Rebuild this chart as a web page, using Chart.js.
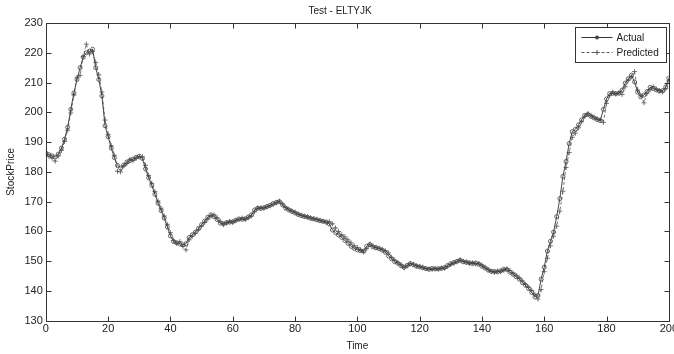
<!DOCTYPE html>
<html>
<head>
<meta charset="utf-8">
<title>Test - ELTYJK</title>
<script src="https://cdn.jsdelivr.net/npm/chart.js@4.4.1/dist/chart.umd.min.js"></script>
<style>
  html, body { margin: 0; padding: 0; background: #fff; overflow: hidden; width: 674px; height: 354px; }
  canvas { display: block; }
</style>
</head>
<body>
<canvas id="myChart" width="680" height="354"></canvas>
<script>
const ctx = document.getElementById('myChart');

// time steps 0..200
const times = [];
for (let i = 0; i <= 200; ++i) {
  times.push(i);
}

const actual = [
  186.3,185.8,185.4,185.0,186.0,188.0,191.0,195.0,201.0,206.5,
  211.0,215.0,218.5,220.0,220.5,221.2,215.0,211.0,205.5,195.5,
  191.8,188.0,184.8,182.2,181.3,182.3,183.3,183.8,184.3,184.9,
  185.3,184.5,181.0,178.0,175.5,172.5,169.5,167.0,164.5,161.5,
  158.5,156.6,156.2,155.8,155.5,155.9,158.0,158.9,159.8,161.0,
  162.3,163.5,164.8,165.6,165.0,164.0,162.8,162.6,163.0,163.1,
  163.3,163.8,164.2,164.1,164.3,164.9,165.6,167.2,167.8,167.7,
  168.0,168.4,168.8,169.4,169.8,170.0,168.9,167.8,167.2,166.7,
  166.2,165.7,165.3,165.0,164.8,164.4,164.2,163.9,163.6,163.4,
  163.2,162.5,160.5,159.6,158.8,158.0,157.0,156.0,155.0,154.3,
  153.8,153.5,153.4,155.0,155.6,154.8,154.5,154.2,153.7,153.0,
  151.8,150.8,149.8,149.3,148.5,148.0,148.6,149.2,148.8,148.3,
  148.1,147.8,147.5,147.3,147.6,147.4,147.5,147.6,147.9,148.6,
  149.2,149.6,150.0,150.3,149.8,149.6,149.5,149.2,149.4,149.0,
  148.3,147.7,147.0,146.6,146.6,146.4,146.8,147.3,147.2,146.3,
  145.6,144.8,144.0,142.8,141.9,140.8,139.5,138.0,138.5,144.0,
  148.0,153.4,156.7,159.8,165.0,171.0,178.5,183.5,189.5,193.5,
  194.3,195.8,197.5,199.0,199.3,198.6,198.1,197.6,197.2,201.0,
  204.5,206.3,206.4,206.3,206.4,207.5,209.8,211.3,212.5,210.2,
  206.8,205.2,205.8,207.0,208.4,208.0,207.5,207.1,207.3,208.5,
  211.5
];

const predicted = [
  186.0,185.2,184.6,183.6,185.4,187.2,190.2,194.0,199.8,205.8,
  211.8,212.4,218.8,222.9,219.6,220.4,216.8,212.6,206.8,197.4,
  192.6,188.8,185.6,180.2,180.0,182.0,182.8,184.2,183.8,184.6,
  185.0,185.1,182.2,178.8,176.2,173.4,170.2,167.8,165.2,162.4,
  159.6,157.0,156.0,156.6,155.0,153.8,157.2,158.4,159.4,160.6,
  161.8,163.0,164.2,165.2,165.6,164.6,163.4,162.3,162.8,163.4,
  163.0,163.6,164.0,164.5,164.0,164.6,165.2,166.6,167.9,168.0,
  167.8,168.2,168.6,169.0,169.6,170.2,169.2,168.1,167.5,166.9,
  166.5,165.9,165.5,165.2,164.9,164.6,164.3,164.1,163.8,163.4,
  163.0,163.3,162.6,161.2,160.0,158.9,158.2,157.2,156.2,155.2,
  154.6,153.9,153.1,154.2,155.8,155.2,154.7,154.4,154.0,153.5,
  152.8,151.3,150.4,149.6,148.9,147.8,148.4,149.2,149.0,148.5,
  148.3,148.0,147.6,147.4,147.2,147.6,147.3,147.7,147.6,148.2,
  148.9,149.3,149.8,150.5,150.0,149.8,149.3,149.5,149.1,149.3,
  148.7,148.0,147.3,146.6,146.2,146.7,146.5,147.0,147.5,146.9,
  146.0,145.3,144.4,143.4,142.2,141.3,140.2,138.9,137.3,140.5,
  146.5,151.0,155.2,158.4,161.8,166.8,173.5,181.5,186.5,191.6,
  193.0,194.8,196.8,198.6,199.6,199.0,198.4,197.8,197.5,196.6,
  203.0,205.6,206.8,206.1,206.7,206.0,208.6,210.8,211.9,213.7,
  207.5,205.8,203.2,206.4,207.6,208.6,207.8,207.3,206.8,207.9,
  210.6
];

const xTicks = [0, 20, 40, 60, 80, 100, 120, 140, 160, 180, 200];
const yTicks = [130, 140, 150, 160, 170, 180, 190, 200, 210, 220, 230];

const FONT = '"Liberation Sans", Arial, sans-serif';
const axisColor = '#333';

// MATLAB style frame: box on all four sides, ticks pointing inward
const framePlugin = {
  id: 'frame',
  afterDraw(chart) {
    const c = chart.ctx;
    const a = chart.chartArea;
    const l = Math.round(a.left) + 0.5, r = Math.round(a.right) + 0.5;
    const t = Math.round(a.top) + 0.5, b = Math.round(a.bottom) + 0.5;
    c.save();
    c.strokeStyle = axisColor;
    c.lineWidth = 1;
    c.strokeRect(l, t, r - l, b - t);
    c.beginPath();
    const len = 5;
    xTicks.forEach(v => {
      const x = Math.round(chart.scales.x.getPixelForValue(v)) + 0.5;
      c.moveTo(x, b); c.lineTo(x, b - len);
      c.moveTo(x, t); c.lineTo(x, t + len);
    });
    yTicks.forEach(v => {
      const y = Math.round(chart.scales.y.getPixelForValue(v)) + 0.5;
      c.moveTo(l, y); c.lineTo(l + len, y);
      c.moveTo(r, y); c.lineTo(r - len, y);
    });
    c.stroke();
    c.restore();
  }
};

// boxed legend in the upper right corner of the axes
const boxLegend = {
  id: 'boxLegend',
  afterDraw(chart) {
    const c = chart.ctx;
    const a = chart.chartArea;
    const w = 91, h = 35;
    const bx = Math.round(a.right - 3 - w) + 0.5;
    const by = Math.round(a.top + 4) + 0.5;
    c.save();
    c.fillStyle = '#fff';
    c.fillRect(bx, by, w, h);
    c.strokeStyle = axisColor;
    c.lineWidth = 1;
    c.strokeRect(bx, by, w, h);
    chart.data.datasets.forEach((ds, i) => {
      const y = by + 10 + i * 15;
      const x0 = bx + 6, x1 = bx + 37, xm = (x0 + x1) / 2;
      c.strokeStyle = ds.borderColor;
      c.lineWidth = 1;
      c.setLineDash(ds.borderDash || []);
      c.beginPath(); c.moveTo(x0, y); c.lineTo(x1, y); c.stroke();
      c.setLineDash([]);
      c.beginPath();
      if (ds.pointStyle === 'cross') {
        c.moveTo(xm - 2.5, y); c.lineTo(xm + 2.5, y);
        c.moveTo(xm, y - 2.5); c.lineTo(xm, y + 2.5);
        c.stroke();
      } else {
        c.arc(xm, y, 2, 0, Math.PI * 2);
        c.fillStyle = ds.pointBorderColor;
        c.fill();
      }
      c.fillStyle = '#222';
      c.font = '10px ' + FONT;
      c.textBaseline = 'middle';
      c.textAlign = 'left';
      c.fillText(ds.label, x1 + 4, y + 0.5);
    });
    c.restore();
  }
};

const chart = new Chart(ctx, {
  type: 'line',
  data: {
    labels: times,
    datasets: [
      {
        label: 'Actual',
        data: actual,
        borderColor: '#333',
        borderWidth: 0.9,
        pointStyle: 'circle',
        pointRadius: 2,
        pointBorderWidth: 0.8,
        pointBorderColor: '#444',
        pointBackgroundColor: 'rgba(255,255,255,0)',
        tension: 0,
        fill: false
      },
      {
        label: 'Predicted',
        data: predicted,
        borderColor: '#555',
        borderWidth: 0.8,
        borderDash: [3, 2],
        pointStyle: 'cross',
        pointRadius: 2.5,
        pointBorderWidth: 0.8,
        pointBorderColor: '#555',
        tension: 0,
        fill: false
      }
    ]
  },
  options: {
    responsive: false,
    animation: false,
    devicePixelRatio: 1,
    layout: { padding: { top: 0, right: 0, bottom: 1, left: 0 } },
    plugins: {
      legend: { display: false },
      tooltip: { enabled: false },
      title: {
        display: true,
        text: 'Test - ELTYJK',
        color: '#222',
        font: { family: FONT, size: 10, weight: 'normal' },
        padding: { top: 5, bottom: 6 }
      }
    },
    scales: {
      x: {
        type: 'linear',
        min: 0,
        max: 200,
        afterBuildTicks: s => { s.ticks = xTicks.map(v => ({ value: v })); },
        ticks: { color: '#222', font: { family: FONT, size: 11 }, padding: 2, maxRotation: 0 },
        grid: { display: false, drawTicks: false },
        border: { display: false },
        title: {
          display: true,
          text: 'Time',
          color: '#222',
          font: { family: FONT, size: 10 },
          padding: { top: 2, bottom: 1 }
        }
      },
      y: {
        min: 130,
        max: 230,
        afterBuildTicks: s => { s.ticks = yTicks.map(v => ({ value: v })); },
        ticks: { color: '#222', font: { family: FONT, size: 11 }, padding: 3 },
        grid: { display: false, drawTicks: false },
        border: { display: false },
        title: {
          display: true,
          text: 'StockPrice',
          color: '#222',
          font: { family: FONT, size: 10 },
          padding: { top: 5, bottom: 4.5 }
        }
      }
    }
  },
  plugins: [framePlugin, boxLegend]
});
</script>
</body>
</html>
